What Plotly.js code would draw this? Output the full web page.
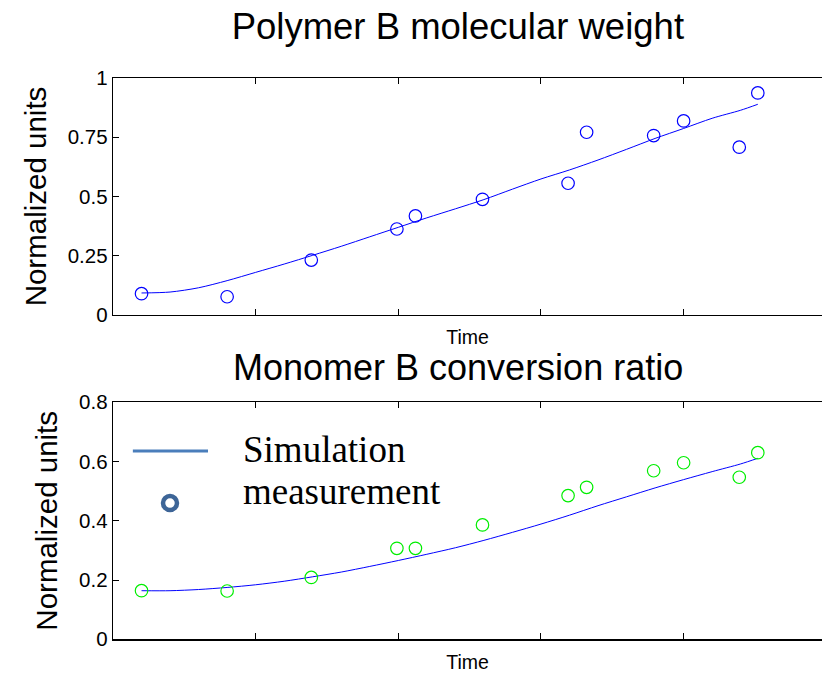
<!DOCTYPE html>
<html>
<head>
<meta charset="utf-8">
<script src="https://cdn.plot.ly/plotly-3.0.1.min.js"></script>
<style>
  html, body { margin: 0; padding: 0; background: #ffffff; }
  #chart { width: 822px; height: 674px; }
</style>
</head>
<body>
<div id="chart"></div>
<script>
// Sampling times of the lab measurements
const measTimes = [0.2, 0.8, 1.39, 1.99, 2.12, 2.59, 3.19, 3.32, 3.79, 4.0, 4.39, 4.52];

// Measured values (normalized)
const polymerMeas = [0.09, 0.077, 0.232, 0.363, 0.418, 0.488, 0.556, 0.771, 0.757, 0.819, 0.708, 0.937];
const monomerMeas = [0.164, 0.163, 0.209, 0.307, 0.307, 0.386, 0.485, 0.513, 0.569, 0.596, 0.547, 0.63];

// Simulation output times and values
const simTimes = [0.2, 0.4, 0.6, 0.8, 1.0, 1.2, 1.4, 1.6, 1.8, 2.0, 2.2, 2.4,
                  2.6, 2.8, 3.0, 3.2, 3.4, 3.6, 3.8, 4.0, 4.2, 4.4, 4.52];
const polymerSim = [0.093, 0.097, 0.115, 0.145, 0.18, 0.215, 0.252, 0.29, 0.33, 0.37, 0.41, 0.448,
                    0.487, 0.531, 0.574, 0.612, 0.654, 0.699, 0.745, 0.787, 0.83, 0.864, 0.889];
const monomerSim = [0.164, 0.164, 0.168, 0.175, 0.184, 0.196, 0.211, 0.227, 0.246, 0.266, 0.287, 0.309,
                    0.334, 0.361, 0.389, 0.419, 0.451, 0.481, 0.511, 0.539, 0.566, 0.592, 0.611];

// Axis ticks
const timeTicks = [0, 1, 2, 3, 4];
const polymerTickVals = [0, 0.25, 0.5, 0.75, 1];
const polymerTickText = ['0', '0.25', '0.5', '0.75', '1'];
const monomerTickVals = [0, 0.2, 0.4, 0.6, 0.8];
const monomerTickText = ['0', '0.2', '0.4', '0.6', '0.8'];

const SANS = 'Liberation Sans, Arial, sans-serif';
const SERIF = 'Liberation Serif, Times New Roman, serif';

const traces = [
  { x: simTimes, y: polymerSim, xaxis: 'x', yaxis: 'y', mode: 'lines',
    line: { color: '#0000ff', width: 1, shape: 'spline', smoothing: 0.8 }, hoverinfo: 'skip' },
  { x: measTimes, y: polymerMeas, xaxis: 'x', yaxis: 'y', mode: 'markers',
    marker: { symbol: 'circle-open', size: 12.5, color: '#0000ff', line: { width: 1.2 } } },
  { x: simTimes, y: monomerSim, xaxis: 'x2', yaxis: 'y2', mode: 'lines',
    line: { color: '#0000ff', width: 1, shape: 'spline', smoothing: 0.8 }, hoverinfo: 'skip' },
  { x: measTimes, y: monomerMeas, xaxis: 'x2', yaxis: 'y2', mode: 'markers',
    marker: { symbol: 'circle-open', size: 12.5, color: '#00ee00', line: { width: 1.2 } } }
];

const xBase = {
  range: [0, 4.97], tickvals: timeTicks, showticklabels: false,
  ticks: 'inside', ticklen: 6, tickcolor: '#000', tickwidth: 1,
  showline: true, linecolor: '#000', linewidth: 1.3, mirror: 'ticks',
  showgrid: false, zeroline: false,
  title: { text: 'Time', font: { family: SANS, size: 19.5, color: '#000' }, standoff: 15 }
};
const yBase = {
  ticks: 'inside', ticklen: 6, tickcolor: '#000', tickwidth: 1,
  showline: true, linecolor: '#000', linewidth: 1.3,
  showgrid: false, zeroline: false,
  tickfont: { family: SANS, size: 20.5, color: '#000' },
  title: { text: 'Normalized units', font: { family: SANS, size: 29.5, color: '#000' }, standoff: 12 }
};
// right-hand tick marks (no line)
const yRight = {
  side: 'right', showline: false, showticklabels: false,
  ticks: 'inside', ticklen: 6, tickcolor: '#000', tickwidth: 1,
  showgrid: false, zeroline: false
};

const layout = {
  width: 822, height: 674,
  margin: { l: 113, r: 0, t: 0, b: 0 },
  paper_bgcolor: '#ffffff', plot_bgcolor: '#ffffff',
  showlegend: false,
  font: { family: SANS, color: '#000' },
  title: {
    text: 'Polymer B molecular weight',
    font: { family: SANS, size: 36.5, color: '#000' },
    xref: 'container', x: 0.557, xanchor: 'center',
    yref: 'container', y: 1 - 26 / 674, yanchor: 'middle'
  },
  xaxis: Object.assign({}, xBase, { domain: [0, 1], anchor: 'y' }),
  yaxis: Object.assign({}, yBase, {
    domain: [0.5326, 0.8843], anchor: 'x', range: [0, 1],
    tickvals: polymerTickVals, ticktext: polymerTickText
  }),
  yaxis3: Object.assign({}, yRight, {
    overlaying: 'y', anchor: 'x', range: [0, 1], tickvals: polymerTickVals
  }),
  xaxis2: Object.assign({}, xBase, { domain: [0, 1], anchor: 'y2' }),
  yaxis2: Object.assign({}, yBase, {
    domain: [0.0515, 0.4031], anchor: 'x2', range: [0, 0.8],
    tickvals: monomerTickVals, ticktext: monomerTickText
  }),
  yaxis4: Object.assign({}, yRight, {
    overlaying: 'y2', anchor: 'x2', range: [0, 0.8], tickvals: monomerTickVals
  }),
  annotations: [
    { text: 'Monomer B conversion ratio', xref: 'paper', yref: 'paper',
      x: 0.4866, y: (674 - 367) / 674, xanchor: 'center', yanchor: 'middle',
      showarrow: false, font: { family: SANS, size: 36, color: '#000' } },
    { text: 'Simulation', xref: 'paper', yref: 'y2',
      x: 0.181, y: 0.64, xanchor: 'left', yanchor: 'middle',
      showarrow: false, font: { family: SERIF, size: 37, color: '#000' } },
    { text: 'measurement', xref: 'paper', yref: 'y2',
      x: 0.181, y: 0.50, xanchor: 'left', yanchor: 'middle',
      showarrow: false, font: { family: SERIF, size: 37, color: '#000' } }
  ],
  shapes: [
    // legend key: line
    { type: 'line', xref: 'paper', yref: 'y2', x0: 0.028, x1: 0.134, y0: 0.636, y1: 0.636,
      line: { color: '#4a7ebb', width: 3 } },
    // legend key: ring marker
    { type: 'circle', xref: 'paper', yref: 'y2', xsizemode: 'pixel', ysizemode: 'pixel',
      xanchor: 0.0804, yanchor: 0.46, x0: -7, x1: 7, y0: -7, y1: 7,
      line: { color: '#3d6597', width: 4.5 }, fillcolor: 'rgba(0,0,0,0)' }
  ]
};

Plotly.newPlot('chart', traces, layout, { displayModeBar: false, staticPlot: true });
</script>
</body>
</html>
